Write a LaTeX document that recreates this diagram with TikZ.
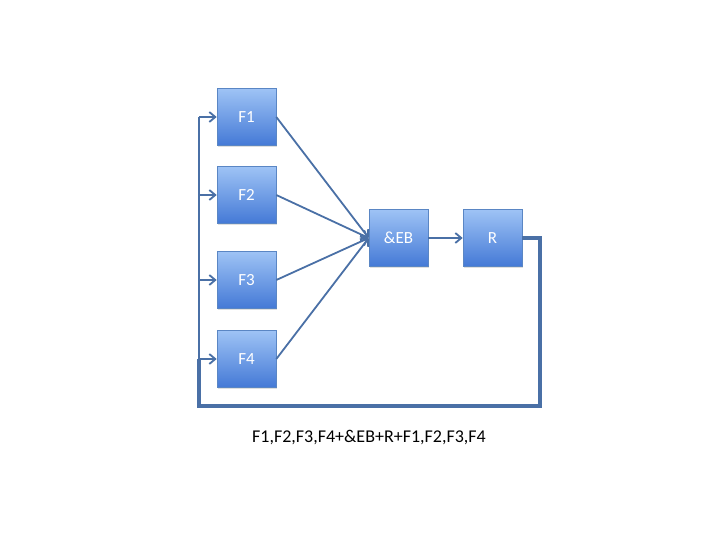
\documentclass[tikz,border=0pt]{standalone}
\usepackage{fontspec}
\setmainfont{Carlito}
\usetikzlibrary{arrows.meta,shadows}
\definecolor{boxtop}{HTML}{9EC3F5}
\definecolor{boxbot}{HTML}{4479D6}
\definecolor{boxedge}{HTML}{5A86C4}
\definecolor{wire}{HTML}{4A70A6}
\tikzset{
  block/.style={rectangle, minimum width=59pt, minimum height=57pt,
    top color=boxtop, bottom color=boxbot, draw=boxedge, line width=0.6pt,
    text=white, font=\fontsize{17}{19}\selectfont,
    drop shadow={shadow xshift=1.2pt, shadow yshift=-1.5pt, opacity=0.25}},
  link/.style={draw=wire, line width=1.8pt, -{Straight Barb[length=6pt,width=10pt]}},
  loop/.style={draw=wire, line width=3.2pt}
}
\begin{document}
\begin{tikzpicture}[x=1pt,y=-1pt]
\useasboundingbox (0,0) rectangle (720,540);
\node[block] (f1) at (246.5,117) {F1};
\node[block] (f2) at (246.5,195) {F2};
\node[block] (f3) at (246.5,280) {F3};
\node[block] (f4) at (246.5,359) {F4};
\node[block] (eb) at (398.5,238) {\&EB};
\node[block] (r)  at (492.5,238) {R};
\foreach \f in {f1,f2,f3,f4} \draw[link] (\f.east) -- (eb.west);
\draw[link] (eb.east) -- (r.west);
% feedback loop from R back to the four inputs
\coordinate (c1) at (540,238);
\coordinate (c2) at (540,406);
\coordinate (c3) at (199,406);
\coordinate (l4) at (199,359);
\coordinate (l3) at (199,280);
\coordinate (l2) at (199,195);
\coordinate (l1) at (199,117);
\draw[loop, line join=miter] (r.east) -- (c1) -- (c2) -- (c3) -- (l4);
\draw[draw=wire, line width=2.2pt] (l4) -- (l1);
\draw[link] (l1) -- (f1.west);
\draw[link] (l2) -- (f2.west);
\draw[link] (l3) -- (f3.west);
\draw[link] (l4) -- (f4.west);
\node[font=\fontsize{18}{20}\selectfont, text=black] (cap) at (369,438) {F1,F2,F3,F4+\&EB+R+F1,F2,F3,F4};
\end{tikzpicture}
\end{document}
